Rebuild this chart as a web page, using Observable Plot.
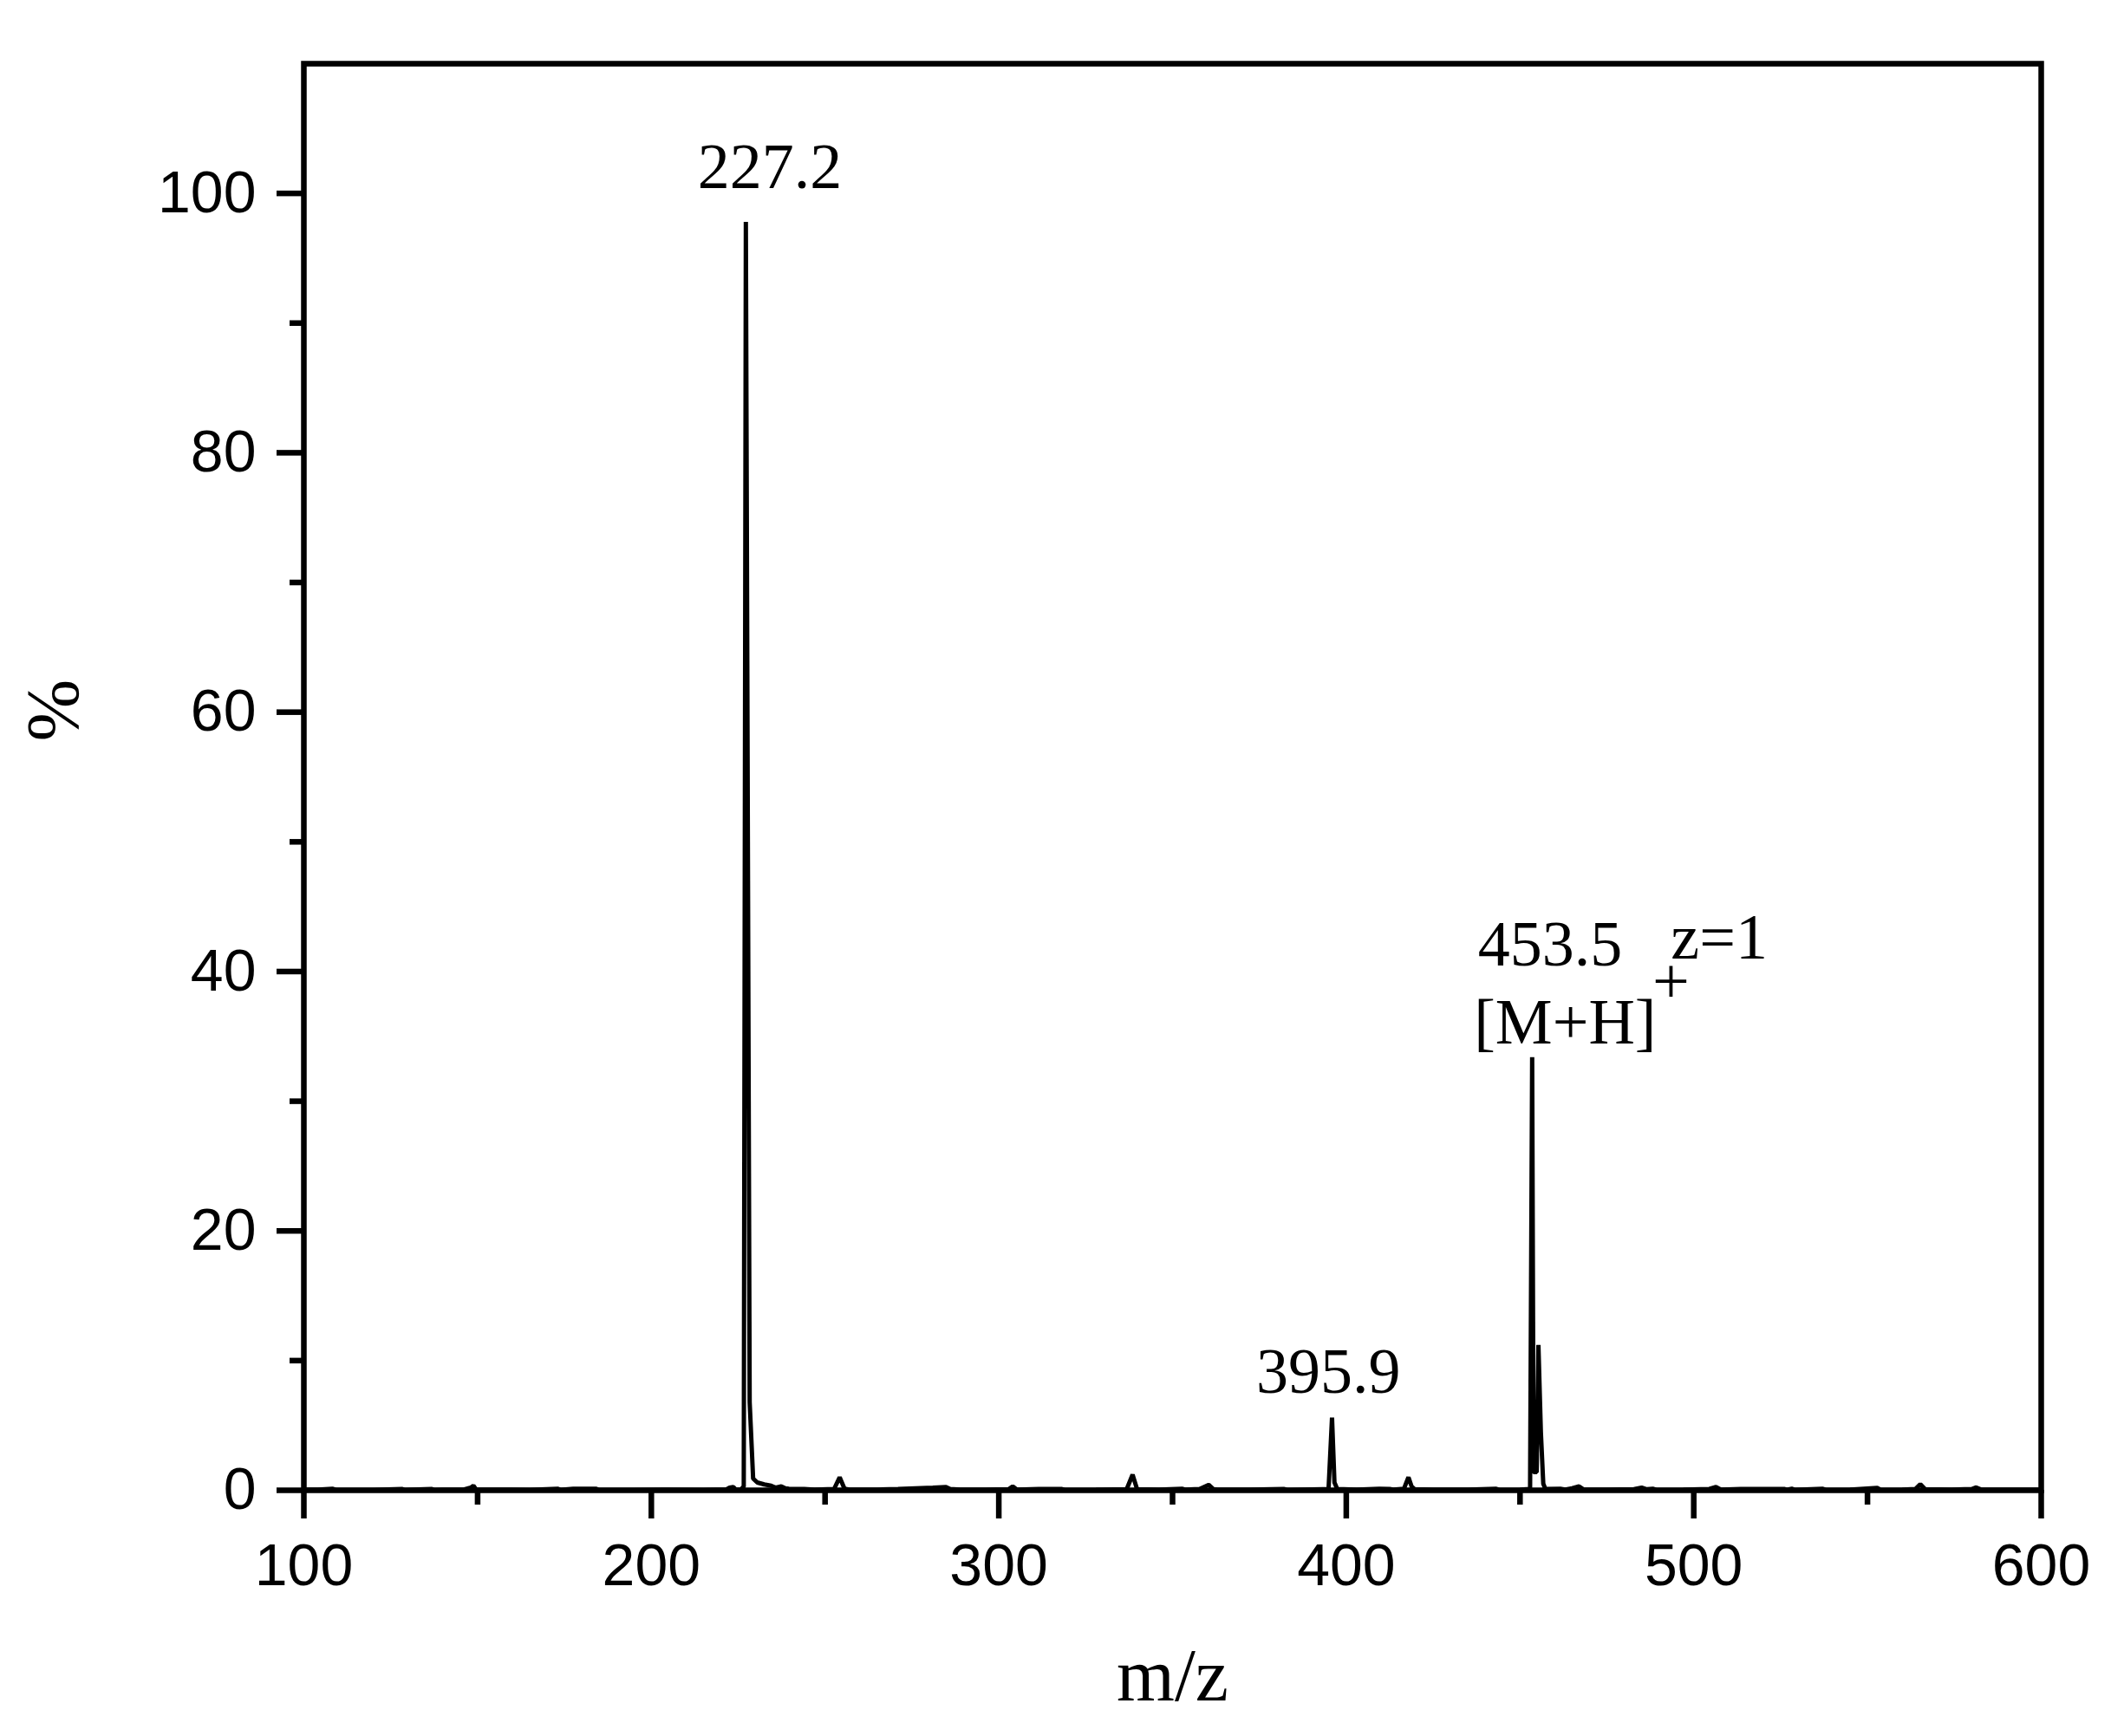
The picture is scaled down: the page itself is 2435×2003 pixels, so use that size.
<!DOCTYPE html>
<html><head><meta charset="utf-8">
<script src="https://cdn.jsdelivr.net/npm/d3@7"></script>
<script src="https://cdn.jsdelivr.net/npm/@observablehq/plot@0.6"></script>
<style>html,body{margin:0;padding:0;background:#fff} svg{display:block}</style>
</head><body><div id="chart"></div>
<script>
// m/z values and relative intensity (%)
const mz = [100.0,104,108.2,109.2,120,128.2,129,136.7,137.5,146,148.0,148.8,149.6,160,165,173.0,173.8,177.5,184.0,184.8,195,205,215,221.5,222.5,223.6,224.3,225.8,226.6,227.2,228.0,228.3,229.3,230.5,232.5,234.5,235.8,237.4,238.6,239.6,244,247,252.6,254.2,255.6,257,265,271,276,281,284.8,286,289,296,302.8,304.0,305.2,311.5,318,319,328,336.8,338.5,339.8,346,352.7,353.6,357.8,360.4,361.8,363,372,382,383,394.9,395.9,396.6,397.4,403,409.5,412.5,413.5,416.6,417.9,418.8,419.7,425,435,443,444,450,452.9,453.5,453.9,454.8,455.3,456.0,456.7,457.3,461.6,463.0,465.0,467.0,468.4,475,482.8,485.0,486.5,488.2,489.2,497,504.5,506.4,507.8,513.5,526,526.8,528.2,529,537,538,545,552.8,553.8,560,563.8,565.2,566.6,574,580,581.3,582.8,590,600];
const intensity = [0.05,0.05,0.12,0.04,0.04,0.1,0.04,0.1,0.04,0.05,0.2,0.35,0.05,0.05,0.04,0.12,0.04,0.12,0.12,0.04,0.04,0.05,0.04,0.06,0.2,0.25,0.05,0.06,0.3,97.8,32.2,6.8,0.9,0.6,0.45,0.35,0.2,0.3,0.15,0.12,0.1,0.05,0.1,1.0,0.12,0.05,0.05,0.1,0.15,0.2,0.25,0.1,0.05,0.05,0.08,0.3,0.05,0.1,0.1,0.04,0.05,0.08,1.2,0.08,0.05,0.12,0.05,0.1,0.42,0.08,0.05,0.05,0.1,0.04,0.1,5.6,0.6,0.1,0.05,0.12,0.1,0.05,0.12,1.0,0.3,0.08,0.05,0.05,0.12,0.04,0.05,0.1,33.4,1.4,1.4,11.2,4.5,0.5,0.1,0.12,0.05,0.15,0.3,0.05,0.05,0.08,0.2,0.08,0.12,0.04,0.05,0.1,0.25,0.05,0.1,0.1,0.04,0.12,0.04,0.12,0.04,0.05,0.18,0.04,0.05,0.1,0.47,0.08,0.05,0.1,0.22,0.05,0.05,0.05];

const xMajorTicks = [100, 200, 300, 400, 500, 600];
const xMinorTicks = [150, 250, 350, 450, 550];
const yMajorTicks = [0, 20, 40, 60, 80, 100];
const yMinorTicks = [10, 30, 50, 70, 90];

const peak227 = [{mz: 227.2, pct: 97.8, label: "227.2"}];
const peak396 = [{mz: 395.9, pct: 5.6, label: "395.9"}];
const peak453 = [{mz: 453.5, pct: 33.4, label: "453.5", ion: "[M+H]", charge: "+", z: "z=1"}];

const spectrum = mz.map((m, i) => ({mz: m, pct: intensity[i]}));

const serif = "'Liberation Serif', 'Times New Roman', serif";
const sans = "'Liberation Sans', Arial, sans-serif";

const chart = Plot.plot({
  width: 2435,
  height: 2003,
  marginLeft: 350,
  marginRight: 81,
  marginTop: 73,
  marginBottom: 284,
  x: {domain: [100, 600]},
  y: {domain: [0, 110]},
  style: {fontFamily: sans, color: "black", background: "white"},
  marks: [
    Plot.line(spectrum, {x: "mz", y: "pct", stroke: "black", strokeWidth: 5, strokeLinejoin: "miter"}),
    Plot.frame({stroke: "black", strokeWidth: 6.5}),
    Plot.axisX(xMajorTicks, {tickSize: 33, tickPadding: 28, fontSize: 68, strokeWidth: 6.5, label: null}),
    Plot.axisX(xMinorTicks, {tickSize: 17, strokeWidth: 6.5, tickFormat: () => "", label: null}),
    Plot.axisY(yMajorTicks, {tickSize: 31, tickPadding: 24, fontSize: 68, strokeWidth: 6.5, label: null}),
    Plot.axisY(yMinorTicks, {tickSize: 16, strokeWidth: 6.5, tickFormat: () => "", label: null}),
    Plot.text(["m/z"], {text: d => d, frameAnchor: "bottom", dy: 242.7, lineAnchor: "bottom", fontFamily: serif, fontSize: 86}),
    Plot.text(["%"], {text: d => d, frameAnchor: "left", dx: -260.3, dy: -41, rotate: -90, lineAnchor: "bottom", fontFamily: serif, fontSize: 86}),
    Plot.text(peak227, {x: "mz", y: "pct", text: "label", dx: 27.7, dy: -38.6, lineAnchor: "bottom", fontFamily: serif, fontSize: 74}),
    Plot.text(peak396, {x: "mz", y: "pct", text: "label", dx: -4.3, dy: -29.2, lineAnchor: "bottom", fontFamily: serif, fontSize: 74}),
    Plot.text(peak453, {x: "mz", y: "pct", text: "label", dx: 20.7, dy: -106, lineAnchor: "bottom", fontFamily: serif, fontSize: 74}),
    Plot.text(peak453, {x: "mz", y: "pct", text: "ion", dx: 38, dy: -16, lineAnchor: "bottom", fontFamily: serif, fontSize: 74}),
    Plot.text(peak453, {x: "mz", y: "pct", text: "charge", dx: 160, dy: -62.6, lineAnchor: "bottom", fontFamily: serif, fontSize: 76}),
    Plot.text(peak453, {x: "mz", y: "pct", text: "z", dx: 160, dy: -114, textAnchor: "start", lineAnchor: "bottom", fontFamily: serif, fontSize: 74})
  ]
});
document.getElementById("chart").appendChild(chart);
</script>
</body></html>
